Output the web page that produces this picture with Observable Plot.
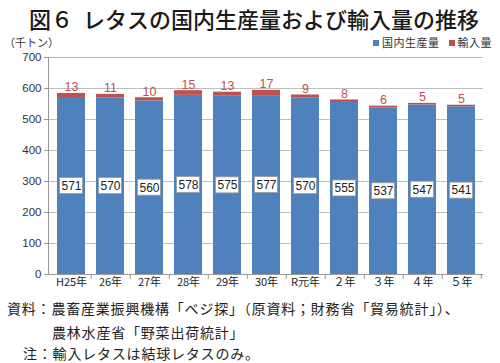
<!DOCTYPE html>
<html><head><meta charset="utf-8">
<script src="https://cdn.jsdelivr.net/npm/d3@7"></script>
<script src="https://cdn.jsdelivr.net/npm/@observablehq/plot@0.6"></script>
<style>
body{margin:0;width:500px;height:363px;position:relative;background:#fff;font-family:"Noto Sans CJK JP",sans-serif;color:#222;overflow:hidden}
.abs{position:absolute;white-space:nowrap}
#title{top:3px;left:0;width:508px;text-align:center;font-size:22px;font-weight:500;color:#1a1a1a;line-height:30px}
#unit{top:34px;left:4px;font-size:11px;color:#333;line-height:16px}
#legend{top:34px;right:8px;font-size:11px;color:#333;line-height:16px;letter-spacing:0.5px}
#legend span.sw{display:inline-block;width:6px;height:6px;margin-right:3px;vertical-align:1px}
#chart{top:34px;left:0}
.foot{font-size:14px;line-height:20px;color:#222;letter-spacing:0.8px}
</style></head>
<body>
<div id="title" class="abs">図６&nbsp;&nbsp;レタスの国内生産量および輸入量の推移</div>
<div id="chart" class="abs"></div>
<div id="unit" class="abs">（千トン）</div>
<div id="legend" class="abs"><span class="sw" style="background:#4f81bd"></span>国内生産量 &nbsp;&nbsp;<span class="sw" style="background:#c0504d"></span>輸入量</div>
<div class="abs foot" style="top:298px;left:7px">資料：農畜産業振興機構「ベジ探」（原資料；財務省「貿易統計」）、</div>
<div class="abs foot" style="top:322px;left:52px">農林水産省「野菜出荷統計」</div>
<div class="abs foot" style="top:343px;left:23px">注：輸入レタスは結球レタスのみ。</div>
<script>
const years = ["H25年","26年","27年","28年","29年","30年","R元年","２年","３年","４年","５年"];
const domestic = [571,570,560,578,575,577,570,555,537,547,541];
const imports = [13,11,10,15,13,17,9,8,6,5,5];
const yTicks = [0,100,200,300,400,500,600,700];

const data = years.map((y,i)=>({year:y, dom:domestic[i], imp:imports[i]}));
const W=500, H=260, mL=48, mR=17;
const halfStep = (W-mL-mR)/years.length/2;
const numFont = "'Liberation Sans Narrow','Liberation Sans',sans-serif";

const chart = Plot.plot({
  width:W, height:H, marginTop:23, marginBottom:20, marginLeft:mL, marginRight:mR,
  style:{background:"transparent", fontFamily:"'Noto Sans CJK JP',sans-serif"},
  x:{domain:years, paddingInner:0.29, paddingOuter:0.145, label:null},
  y:{domain:[0,700], label:null},
  marks:[
    Plot.ruleY(yTicks.slice(1), {stroke:"#bfbfbf", strokeWidth:1}),
    Plot.axisY({ticks:yTicks, tickSize:4, tickPadding:3, stroke:"#999", fill:"#333", fontSize:11.5, fontFamily:numFont, label:null}),
    Plot.barY(data, {x:"year", y1:0, y2:"dom", fill:"#4f81bd"}),
    Plot.barY(data, {x:"year", y1:"dom", y2:d=>d.dom+d.imp, fill:"#c0504d"}),
    Plot.frame({anchor:"left", stroke:"#999"}),
    Plot.ruleY([0], {stroke:"#999"}),
    Plot.axisX({tickSize:5, dx:halfStep, text:null, stroke:"#999", label:null}),
    Plot.axisX({tickSize:0, tickPadding:4, fill:"#222", fontSize:11, label:null}),
    Plot.barY(data, {x:"year", y1:d=>d.dom/2, y2:d=>d.dom/2, insetTop:-8, insetBottom:-8, insetLeft:2.5, insetRight:2.5, fill:"white", stroke:"#9a9a9a", strokeWidth:0.8}),
    Plot.text(data, {x:"year", y:d=>d.dom/2, text:d=>String(d.dom), fill:"#222", fontSize:12, fontFamily:numFont}),
    Plot.text(data, {x:"year", y:d=>d.dom+d.imp, text:d=>String(d.imp), dy:-6, fill:"#c0504d", fontSize:12.5, fontFamily:numFont})
  ]
});
document.getElementById("chart").appendChild(chart);
</script>
</body></html>
